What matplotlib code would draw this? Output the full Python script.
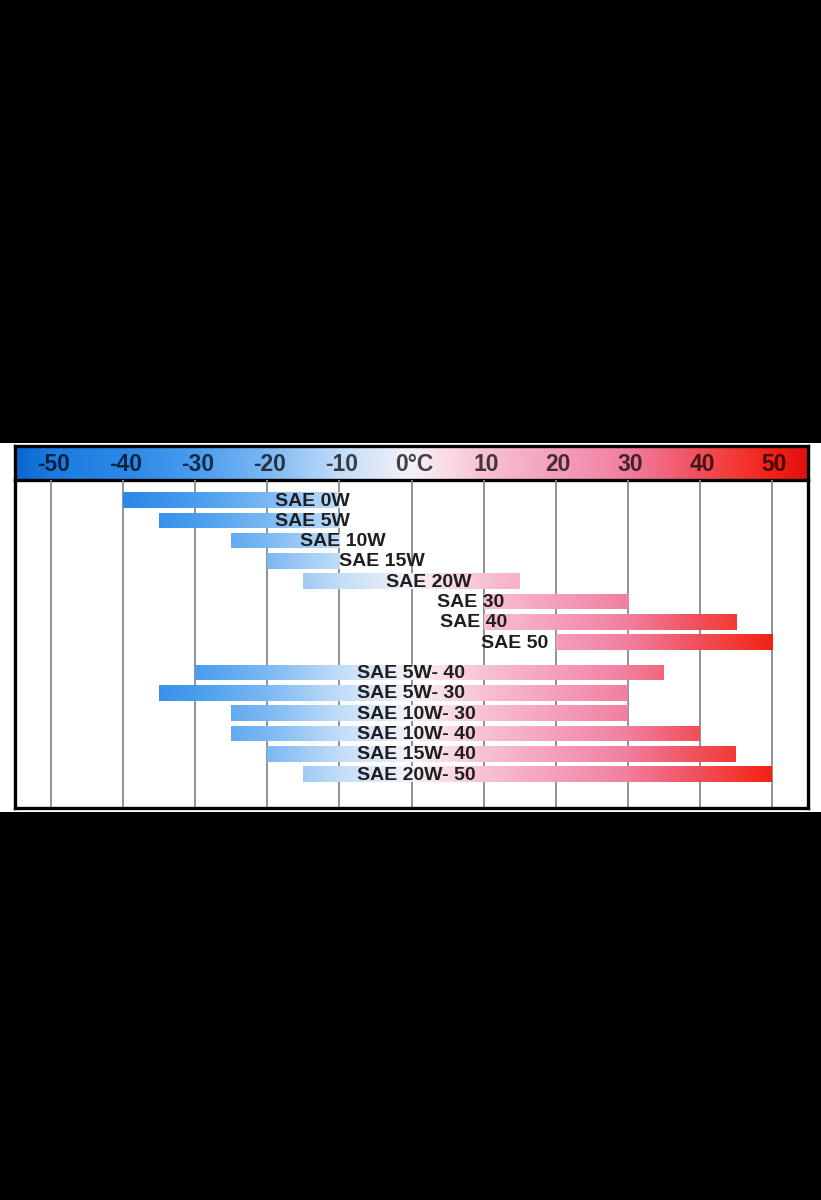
import numpy as np
import matplotlib
matplotlib.use('Agg')
import matplotlib.pyplot as plt
from matplotlib.colors import LinearSegmentedColormap, Normalize

plt.rcParams['font.family'] = ['Liberation Sans', 'DejaVu Sans']

# Temperature scale of the header strip
tick_values = [-50, -40, -30, -20, -10, 0, 10, 20, 30, 40, 50]
tick_labels = ['-50', '-40', '-30', '-20', '-10', '0°C', '10', '20', '30', '40', '50']

# Oil grades: usable range (°C)
grades = ['SAE 0W', 'SAE 5W', 'SAE 10W', 'SAE 15W', 'SAE 20W',
          'SAE 30', 'SAE 40', 'SAE 50',
          'SAE 5W- 40', 'SAE 5W- 30', 'SAE 10W- 30', 'SAE 10W- 40',
          'SAE 15W- 40', 'SAE 20W- 50']
low_temp = [-40, -35, -25, -20, -15, 10, 10, 20, -30, -35, -25, -25, -20, -15]
high_temp = [-10, -10, -10, -10, 15, 30, 45, 50, 35, 30, 30, 40, 45, 50]

# where each label starts (°C)
label_x = [-19, -19, -15.4, -10, -3.5, 3.6, 4, 9.6,
           -7.6, -7.6, -7.6, -7.6, -7.6, -7.6]

# colour ramp cold -> hot
ramp = [(-55, '#0a66cf'), (-50, '#1a7be0'), (-40, '#2b88e7'), (-30, '#499dee'),
        (-20, '#7cb8f3'), (-10, '#c2ddf8'), (0, '#f6f1f8'), (5, '#f9dbe7'),
        (10, '#f7c1d4'), (20, '#f59fbb'), (30, '#f17f9f'), (38, '#f05868'),
        (45, '#f23a35'), (50, '#f32116'), (55, '#e01010')]
lo, hi = -55, 55
cmap = LinearSegmentedColormap.from_list(
    'temp', [((t - lo) / (hi - lo), c) for t, c in ramp])
norm = Normalize(lo, hi)

W, H = 821, 1200
fig = plt.figure(figsize=(W / 100, H / 100), dpi=100, facecolor='black')

# white panel
bg = fig.add_axes([0, (H - 812) / H, 1, (812 - 443) / H])
bg.set_facecolor('white')
bg.set_xticks([])
bg.set_yticks([])
for s in bg.spines.values():
    s.set_visible(False)

x0, x1 = 15 / W, 808 / W

# header strip
hax = fig.add_axes([x0, (H - 480) / H, x1 - x0, 34 / H])
grad = np.linspace(lo, hi, 512).reshape(1, -1)
hax.imshow(grad, cmap=cmap, norm=norm, aspect='auto', extent=[lo, hi, 0, 1])
hax.set_xlim(lo, hi)
hax.set_ylim(0, 1)
hax.set_xticks([])
hax.set_yticks([])
for s in hax.spines.values():
    s.set_linewidth(2.4)
    s.set_color('black')
for v, t in zip(tick_values, tick_labels):
    hax.text(v + (0.4 if v == 0 else 0.3), 0.47, t, ha='center', va='center',
             fontsize=16.5, fontweight='bold', color='black', alpha=0.72)

# main chart
ax = fig.add_axes([x0, (H - 808) / H, x1 - x0, 328 / H])
ax.set_zorder(2)
ax.patch.set_alpha(0)
rows = [i if i < 8 else i + 0.5 for i in range(len(grades))]
for v in tick_values:
    ax.axvline(v, color='#8a8a8a', lw=1.3, zorder=1)

bars = ax.barh(rows, np.array(high_temp) - np.array(low_temp), left=low_temp,
               height=0.76, color='none', zorder=2)
for b in bars:
    im = ax.imshow(grad, cmap=cmap, norm=norm, aspect='auto',
                   extent=[lo, hi, 20, -20], zorder=2, interpolation='bilinear')
    im.set_clip_path(b)

for r, name, lx in zip(rows, grades, label_x):
    ax.text(lx, r + 0.05, name, ha='left', va='center', fontsize=14,
            fontweight='bold', color='#1e1e1e', zorder=3)

ax.set_xlim(lo, hi)
ax.set_ylim(15.17, -0.985)
ax.set_xticks([])
ax.set_yticks([])
for side in ['left', 'right', 'bottom']:
    ax.spines[side].set_linewidth(2.4)
    ax.spines[side].set_color('black')
ax.spines['top'].set_visible(False)

fig.savefig('out.png', dpi=100, facecolor='black')
